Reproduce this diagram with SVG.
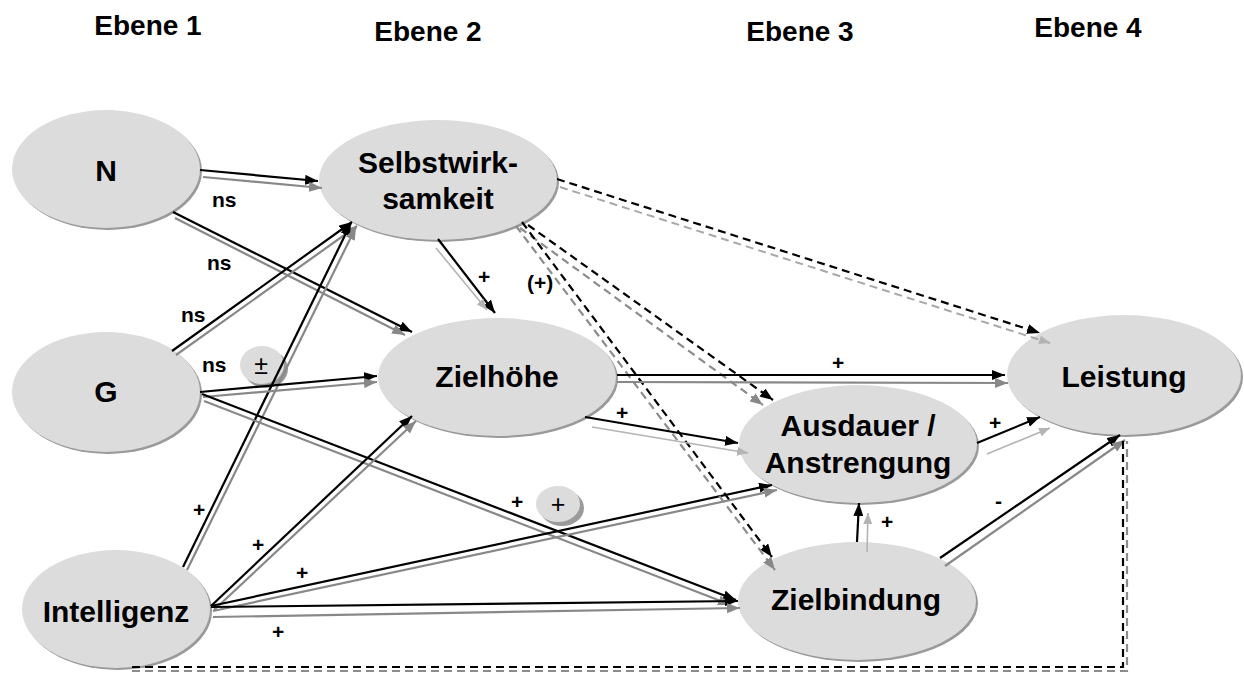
<svg xmlns="http://www.w3.org/2000/svg" width="1244" height="673" viewBox="0 0 1244 673">
<style>
text{font-family:"Liberation Sans",Arial,sans-serif;font-weight:bold;fill:#000}
.hdr{font-size:28px;text-anchor:middle}
.lbl{font-size:30px;text-anchor:middle}
.sm{font-size:21px}
.badge{font-size:25px;font-weight:normal;text-anchor:middle}
.shadow{fill:#9a9a9a}
.node{fill:#dcdcdc}
.b{stroke:#000;stroke-width:2.2;fill:none;marker-end:url(#aB)}
.g{stroke:#888;stroke-width:2.2;fill:none;marker-end:url(#aG)}
.l{stroke:#b4b4b4;stroke-width:1.6;fill:none;marker-end:url(#aL)}
.bd{stroke:#000;stroke-width:2.2;fill:none;stroke-dasharray:8 5;marker-end:url(#aB)}
.gd{stroke:#8c8c8c;stroke-width:2.2;fill:none;stroke-dasharray:8 5;marker-end:url(#aG)}
.ld{stroke:#a8a8a8;stroke-width:2;fill:none;stroke-dasharray:8 5;marker-end:url(#aL)}
.bdn{stroke:#000;stroke-width:2.2;fill:none;stroke-dasharray:8 5}
.gdn{stroke:#8c8c8c;stroke-width:2.2;fill:none;stroke-dasharray:8 5}
</style>
<defs>
<marker id="aB" markerUnits="userSpaceOnUse" markerWidth="13" markerHeight="10" refX="13" refY="5" orient="auto"><path d="M0,0 L13,5 L0,10 z" fill="#000"/></marker>
<marker id="aG" markerUnits="userSpaceOnUse" markerWidth="13" markerHeight="10" refX="13" refY="5" orient="auto"><path d="M0,0 L13,5 L0,10 z" fill="#888"/></marker>
<marker id="aL" markerUnits="userSpaceOnUse" markerWidth="11" markerHeight="9" refX="11" refY="4.5" orient="auto"><path d="M0,0 L11,4.5 L0,9 z" fill="#b4b4b4"/></marker>
</defs>
<rect width="1244" height="673" fill="#fff"/>

<g id="headers">
<text class="hdr" x="148" y="35">Ebene 1</text>
<text class="hdr" x="428" y="41">Ebene 2</text>
<text class="hdr" x="800" y="41">Ebene 3</text>
<text class="hdr" x="1088" y="37">Ebene 4</text>
</g>

<g id="node-N"><ellipse class="shadow" cx="108" cy="171" rx="94" ry="59"/><ellipse class="node" cx="106" cy="169" rx="94" ry="59"/><text class="lbl" x="106" y="181">N</text></g>
<g id="node-G"><ellipse class="shadow" cx="108" cy="394" rx="94" ry="60"/><ellipse class="node" cx="106" cy="392" rx="94" ry="60"/><text class="lbl" x="106" y="402">G</text></g>
<g id="node-Intelligenz"><ellipse class="shadow" cx="118" cy="611" rx="94" ry="59"/><ellipse class="node" cx="116" cy="609" rx="94" ry="59"/><text class="lbl" x="116" y="622">Intelligenz</text></g>
<g id="node-Selbstwirksamkeit"><ellipse class="shadow" cx="440" cy="182" rx="119" ry="60"/><ellipse class="node" cx="438" cy="180" rx="119" ry="60"/><text class="lbl" x="438" y="173">Selbstwirk-</text><text class="lbl" x="438" y="209">samkeit</text></g>
<g id="node-Zielhoehe"><ellipse class="shadow" cx="499" cy="379" rx="119" ry="59"/><ellipse class="node" cx="497" cy="377" rx="119" ry="59"/><text class="lbl" x="497" y="387">Zielhöhe</text></g>
<g id="node-Ausdauer"><ellipse class="shadow" cx="860" cy="446" rx="119" ry="59"/><ellipse class="node" cx="858" cy="444" rx="119" ry="59"/><text class="lbl" x="858" y="436">Ausdauer /</text><text class="lbl" x="858" y="473">Anstrengung</text></g>
<g id="node-Zielbindung"><ellipse class="shadow" cx="859" cy="603" rx="119" ry="59"/><ellipse class="node" cx="857" cy="601" rx="119" ry="59"/><text class="lbl" x="856" y="610">Zielbindung</text></g>
<g id="node-Leistung"><ellipse class="shadow" cx="1126" cy="377" rx="117" ry="60"/><ellipse class="node" cx="1124" cy="375" rx="117" ry="60"/><text class="lbl" x="1124" y="387">Leistung</text></g>

<g id="badge-pm"><ellipse class="shadow" cx="266" cy="369" rx="22" ry="19"/><ellipse class="node" cx="262" cy="365" rx="22" ry="19"/><text class="badge" x="261" y="374">±</text></g>
<g id="badge-plus"><ellipse class="shadow" cx="562" cy="508" rx="22" ry="18"/><ellipse class="node" cx="558" cy="504" rx="22" ry="18"/><text class="badge" x="558" y="513">+</text></g>

<g id="connectors">
<line class="b" x1="200" y1="170" x2="318" y2="181"/><line class="g" x1="203" y1="177" x2="322" y2="188"/>
<line class="b" x1="173" y1="212" x2="412" y2="332"/><line class="g" x1="175" y1="218" x2="405" y2="335"/>
<line class="b" x1="172" y1="351" x2="352" y2="222"/><line class="g" x1="176" y1="355" x2="357" y2="226"/>
<line class="b" x1="183" y1="567" x2="351" y2="223"/><line class="g" x1="187" y1="570" x2="356" y2="227"/>
<line class="b" x1="200" y1="392" x2="377" y2="376"/><line class="g" x1="203" y1="397" x2="377" y2="382"/>
<line class="b" x1="202" y1="394" x2="736" y2="600"/><line class="g" x1="204" y1="401" x2="731" y2="605"/>
<line class="b" x1="211" y1="606" x2="412" y2="416"/><line class="g" x1="214" y1="610" x2="416" y2="421"/>
<line class="b" x1="211" y1="606" x2="772" y2="485"/><line class="g" x1="213" y1="611" x2="777" y2="490"/>
<line class="b" x1="211" y1="607" x2="738" y2="601"/><line class="g" x1="213" y1="617" x2="740" y2="608"/>
<line class="b" x1="438" y1="239" x2="495" y2="313"/><line class="l" x1="436" y1="248" x2="487" y2="310"/>
<line class="bd" x1="557" y1="179" x2="1040" y2="333"/><line class="ld" x1="560" y1="187" x2="1050" y2="343"/>
<line class="bd" x1="528" y1="225" x2="773" y2="400"/><line class="gd" x1="520" y1="228" x2="763" y2="405"/>
<line class="bd" x1="522" y1="222" x2="772" y2="557"/><line class="gd" x1="516" y1="226" x2="775" y2="570"/>
<line class="b" x1="617" y1="375" x2="1005" y2="375"/><line class="g" x1="617" y1="382" x2="1008" y2="383"/>
<line class="b" x1="585" y1="417" x2="738" y2="443"/><line class="l" x1="592" y1="427" x2="748" y2="453"/>
<line class="b" x1="977" y1="443" x2="1040" y2="417"/><line class="l" x1="987" y1="454" x2="1050" y2="428"/>
<line class="b" x1="857" y1="542" x2="859" y2="503"/><line class="l" x1="867" y1="552" x2="868" y2="513"/>
<line class="b" x1="940" y1="558" x2="1120" y2="435"/><line class="g" x1="945" y1="566" x2="1125" y2="440"/>
<path class="bdn" d="M132,667 H1123 V437"/><path class="gdn" d="M132,671 H1127 V441"/>
</g>

<g id="labels">
<text class="sm" x="212" y="207">ns</text>
<text class="sm" x="207" y="270">ns</text>
<text class="sm" x="181" y="322">ns</text>
<text class="sm" x="202" y="372">ns</text>
<text class="sm" x="478" y="284">+</text>
<text class="sm" x="527" y="290">(+)</text>
<text class="sm" x="832" y="370">+</text>
<text class="sm" x="616" y="420">+</text>
<text class="sm" x="989" y="430">+</text>
<text class="sm" x="881" y="529">+</text>
<text class="sm" x="995" y="508">-</text>
<text class="sm" x="511" y="509">+</text>
<text class="sm" x="193" y="517">+</text>
<text class="sm" x="252" y="552">+</text>
<text class="sm" x="296" y="580">+</text>
<text class="sm" x="272" y="639">+</text>
</g>
</svg>
